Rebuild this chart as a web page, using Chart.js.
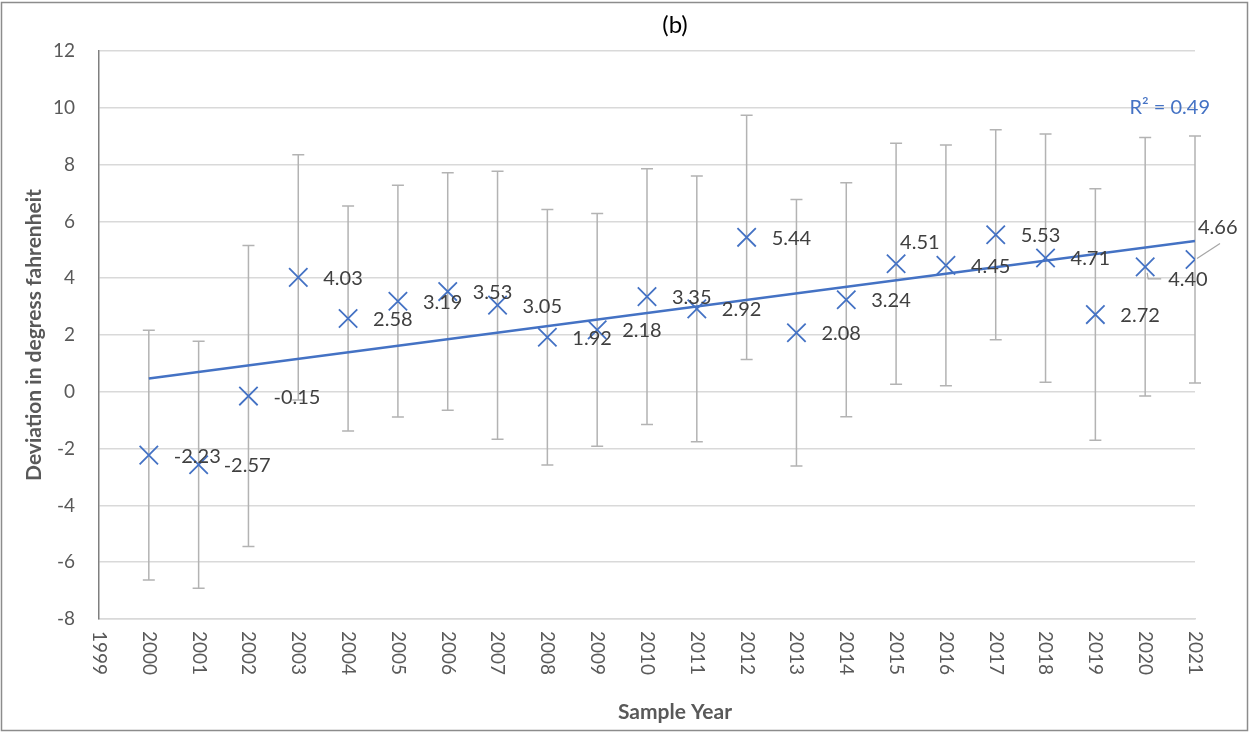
<!DOCTYPE html>
<html>
<head>
<meta charset="utf-8">
<script src="https://cdn.jsdelivr.net/npm/chart.js@4.4.0/dist/chart.umd.min.js"></script>
<style>
  html, body { margin: 0; padding: 0; background: #fff; }
</style>
</head>
<body>
<canvas id="chart" width="1249" height="732"></canvas>
<script>
// data
const years = [2000, 2001, 2002, 2003, 2004, 2005, 2006, 2007, 2008, 2009, 2010,
               2011, 2012, 2013, 2014, 2015, 2016, 2017, 2018, 2019, 2020, 2021];
const deviation = [-2.23, -2.57, -0.15, 4.03, 2.58, 3.19, 3.53, 3.05, 1.92, 2.18, 3.35,
                   2.92, 5.44, 2.08, 3.24, 4.51, 4.45, 5.53, 4.71, 2.72, 4.40, 4.66];
const errorMargin = [4.40, 4.35, 5.30, 4.32, 3.96, 4.08, 4.18, 4.72, 4.50, 4.10, 4.50,
                     4.68, 4.30, 4.69, 4.12, 4.24, 4.24, 3.70, 4.37, 4.43, 4.55, 4.35];
const yTicks = [-8, -6, -4, -2, 0, 2, 4, 6, 8, 10, 12];
const rSquaredText = 'R² = 0.49';

const BLUE = '#4472C4';
const FONT = 'Lato, "Open Sans", sans-serif';

// linear trend (least squares) through the points
const n = years.length;
const mx = years.reduce((a, b) => a + b, 0) / n;
const my = deviation.reduce((a, b) => a + b, 0) / n;
let sxy = 0, sxx = 0;
years.forEach((x, i) => { sxy += (x - mx) * (deviation[i] - my); sxx += (x - mx) * (x - mx); });
const slope = sxy / sxx;
const intercept = my - slope * mx;
const trend = [years[0], years[n - 1]].map(x => ({ x: x, y: intercept + slope * x }));

// a few labels were moved by hand in the original
const labelShift = {
  2015: { dx: 4, dy: -21 },
  2020: { dx: 23, dy: 13, leader: 'below' },
  2021: { dx: 3, dy: -32, leader: 'above' }
};

const extras = {
  id: 'extras',
  beforeDatasetsDraw(chart) {
    const { ctx } = chart;
    const xs = chart.scales.x, ys = chart.scales.y;
    ctx.save();
    ctx.strokeStyle = '#b3b3b3';
    ctx.lineWidth = 1.5;
    years.forEach((yr, i) => {
      const px = xs.getPixelForValue(yr);
      const top = ys.getPixelForValue(deviation[i] + errorMargin[i]);
      const bot = ys.getPixelForValue(deviation[i] - errorMargin[i]);
      ctx.beginPath();
      ctx.moveTo(px, top); ctx.lineTo(px, bot);
      ctx.moveTo(px - 6, top); ctx.lineTo(px + 6, top);
      ctx.moveTo(px - 6, bot); ctx.lineTo(px + 6, bot);
      ctx.stroke();
    });
    ctx.restore();
  },
  afterDraw(chart) {
    const { ctx } = chart;
    const xs = chart.scales.x, ys = chart.scales.y;
    const area = chart.chartArea;
    ctx.save();

    // x tick labels, turned clockwise
    ctx.fillStyle = '#595959';
    ctx.font = '19px ' + FONT;
    ctx.textAlign = 'left';
    ctx.textBaseline = 'middle';
    xs.ticks.forEach(t => {
      const px = xs.getPixelForValue(t.value);
      ctx.save();
      ctx.translate(px, area.bottom + 12);
      ctx.rotate(Math.PI / 2);
      ctx.fillText(String(t.value), 0, 0);
      ctx.restore();
    });

    // data labels
    ctx.fillStyle = '#404040';
    ctx.font = '20px ' + FONT;
    ctx.textBaseline = 'middle';
    years.forEach((yr, i) => {
      const px = xs.getPixelForValue(yr);
      const py = ys.getPixelForValue(deviation[i]);
      const s = labelShift[yr] || { dx: 25, dy: 1 };
      if (s.leader) {
        ctx.strokeStyle = '#a6a6a6';
        ctx.lineWidth = 1.2;
        ctx.beginPath();
        if (s.leader === 'above') {
          ctx.moveTo(px + 2, py - 1); ctx.lineTo(px + 25, py - 16);
        } else {
          ctx.moveTo(px + 2, py + 6); ctx.lineTo(px + 3, py + 12); ctx.lineTo(px + 16, py + 12);
        }
        ctx.stroke();
      }
      ctx.fillText(deviation[i].toFixed(2), px + s.dx, py + s.dy);
    });

    // R squared of the trend
    ctx.fillStyle = BLUE;
    ctx.font = '20px ' + FONT;
    ctx.textAlign = 'right';
    ctx.fillText(rSquaredText, xs.getPixelForValue(2021) + 15, ys.getPixelForValue(10));

    // chart title and x axis title
    ctx.fillStyle = '#000';
    ctx.font = '24px ' + FONT;
    ctx.textAlign = 'center';
    ctx.fillText('(b)', 675, 25);
    ctx.fillStyle = '#595959';
    ctx.font = 'bold 21px ' + FONT;
    ctx.fillText('Sample Year', 675, 712);

    // outer frame
    ctx.strokeStyle = '#8c8c8c';
    ctx.lineWidth = 1.5;
    ctx.strokeRect(1.5, 2.5, chart.width - 3, chart.height - 4);
    ctx.restore();
  }
};

new Chart(document.getElementById('chart'), {
  type: 'scatter',
  data: {
    datasets: [
      {
        label: 'Trend',
        type: 'line',
        data: trend,
        borderColor: BLUE,
        borderWidth: 2.5,
        pointRadius: 0,
        fill: false,
        order: 2
      },
      {
        label: 'Deviation',
        data: years.map((x, i) => ({ x: x, y: deviation[i] })),
        pointStyle: 'crossRot',
        pointRadius: 13,
        borderColor: BLUE,
        backgroundColor: BLUE,
        borderWidth: 1.8,
        order: 1
      }
    ]
  },
  options: {
    responsive: false,
    animation: false,
    devicePixelRatio: 1,
    layout: { padding: { left: 0, top: 51, right: 54, bottom: 0 } },
    plugins: {
      legend: { display: false },
      tooltip: { enabled: false },
      title: { display: false }
    },
    scales: {
      x: {
        type: 'linear',
        min: 1999,
        max: 2021,
        afterBuildTicks: axis => { axis.ticks = [years[0] - 1].concat(years).map(v => ({ value: v })); },
        ticks: { display: false },
        grid: { display: false },
        border: { display: true, color: '#d9d9d9', width: 1.5 },
        afterFit: scale => { scale.height = 113; }
      },
      y: {
        min: yTicks[0],
        max: yTicks[yTicks.length - 1],
        afterBuildTicks: axis => { axis.ticks = yTicks.map(v => ({ value: v })); },
        ticks: {
          color: '#595959',
          font: { family: FONT, size: 19 },
          padding: 24
        },
        grid: { color: '#d9d9d9', lineWidth: 1.5, drawTicks: false },
        border: { display: true, color: '#7f7f7f', width: 1.5 },
        title: {
          display: true,
          text: 'Deviation in degress fahrenheit',
          color: '#595959',
          font: { family: FONT, size: 21, weight: 'bold' },
          padding: { top: 22, bottom: 0 }
        },
        afterFit: scale => { scale.width = 99; }
      }
    }
  },
  plugins: [extras]
});
</script>
</body>
</html>
